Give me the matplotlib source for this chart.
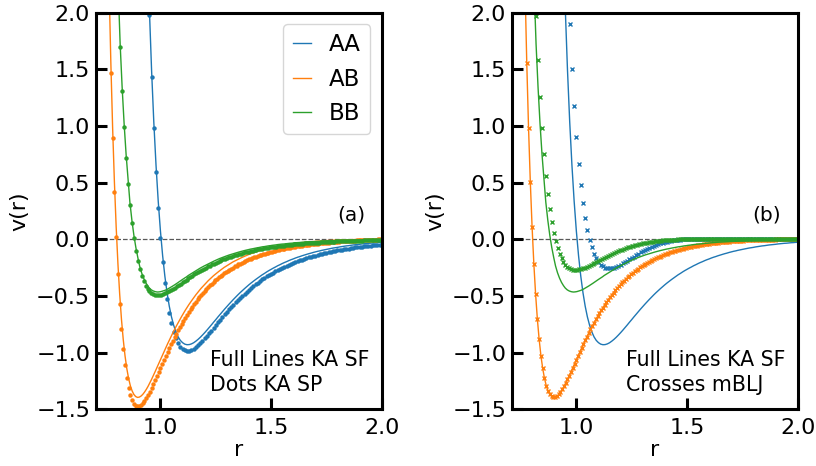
"""
plot.py

Kob-Andersen pair potentials: shifted-force lines against shifted-potential
dots (a) and against the modified mBLJ crosses (b).
"""

import matplotlib
matplotlib.use('Agg')
import matplotlib.pyplot as plt

## Pair names and colours
pairs = ['AA', 'AB', 'BB']
colors = ['#1f77b4', '#ff7f0e', '#2ca02c']

## r values for every pair
r_aa = [0.94, 0.95, 0.96, 0.97, 0.98, 0.99, 1.00, 1.01, 1.02, 1.03,
        1.04, 1.05, 1.06, 1.07, 1.08, 1.09, 1.10, 1.11, 1.12, 1.13,
        1.14, 1.15, 1.16, 1.17, 1.18, 1.19, 1.20, 1.21, 1.22, 1.23,
        1.24, 1.25, 1.26, 1.27, 1.28, 1.29, 1.30, 1.31, 1.32, 1.33,
        1.34, 1.35, 1.36, 1.37, 1.38, 1.39, 1.40, 1.41, 1.42, 1.43,
        1.44, 1.45, 1.46, 1.47, 1.48, 1.49, 1.50, 1.51, 1.52, 1.53,
        1.54, 1.55, 1.56, 1.57, 1.58, 1.59, 1.60, 1.61, 1.62, 1.63,
        1.64, 1.65, 1.66, 1.67, 1.68, 1.69, 1.70, 1.71, 1.72, 1.73,
        1.74, 1.75, 1.76, 1.77, 1.78, 1.79, 1.80, 1.81, 1.82, 1.83,
        1.84, 1.85, 1.86, 1.87, 1.88, 1.89, 1.90, 1.91, 1.92, 1.93,
        1.94, 1.95, 1.96, 1.97, 1.98, 1.99, 2.00]
r_ab = [0.768, 0.776, 0.784, 0.792, 0.800, 0.808, 0.816, 0.824, 0.832, 0.840,
        0.848, 0.856, 0.864, 0.872, 0.880, 0.888, 0.896, 0.904, 0.912, 0.920,
        0.928, 0.936, 0.944, 0.952, 0.960, 0.968, 0.976, 0.984, 0.992, 1.000,
        1.008, 1.016, 1.024, 1.032, 1.040, 1.048, 1.056, 1.064, 1.072, 1.080,
        1.088, 1.096, 1.104, 1.112, 1.120, 1.128, 1.136, 1.144, 1.152, 1.160,
        1.168, 1.176, 1.184, 1.192, 1.200, 1.208, 1.216, 1.224, 1.232, 1.240,
        1.248, 1.256, 1.264, 1.272, 1.280, 1.288, 1.296, 1.304, 1.312, 1.320,
        1.328, 1.336, 1.344, 1.352, 1.360, 1.368, 1.376, 1.384, 1.392, 1.400,
        1.408, 1.416, 1.424, 1.432, 1.440, 1.448, 1.456, 1.464, 1.472, 1.480,
        1.488, 1.496, 1.504, 1.512, 1.520, 1.528, 1.536, 1.544, 1.552, 1.560,
        1.568, 1.576, 1.584, 1.592, 1.600, 1.608, 1.616, 1.624, 1.632, 1.640,
        1.648, 1.656, 1.664, 1.672, 1.680, 1.688, 1.696, 1.704, 1.712, 1.720,
        1.728, 1.736, 1.744, 1.752, 1.760, 1.768, 1.776, 1.784, 1.792, 1.800,
        1.808, 1.816, 1.824, 1.832, 1.840, 1.848, 1.856, 1.864, 1.872, 1.880,
        1.888, 1.896, 1.904, 1.912, 1.920, 1.928, 1.936, 1.944, 1.952, 1.960,
        1.968, 1.976, 1.984, 1.992, 2.000]
r_bb = [0.810, 0.818, 0.827, 0.836, 0.845, 0.854, 0.862, 0.871, 0.880, 0.889,
        0.898, 0.906, 0.915, 0.924, 0.933, 0.942, 0.950, 0.959, 0.968, 0.977,
        0.986, 0.994, 1.003, 1.012, 1.021, 1.030, 1.038, 1.047, 1.056, 1.065,
        1.074, 1.082, 1.091, 1.100, 1.109, 1.118, 1.126, 1.135, 1.144, 1.153,
        1.162, 1.170, 1.179, 1.188, 1.197, 1.206, 1.214, 1.223, 1.232, 1.241,
        1.250, 1.258, 1.267, 1.276, 1.285, 1.294, 1.302, 1.311, 1.320, 1.329,
        1.338, 1.346, 1.355, 1.364, 1.373, 1.382, 1.390, 1.399, 1.408, 1.417,
        1.426, 1.434, 1.443, 1.452, 1.461, 1.470, 1.478, 1.487, 1.496, 1.505,
        1.514, 1.522, 1.531, 1.540, 1.549, 1.558, 1.566, 1.575, 1.584, 1.593,
        1.602, 1.610, 1.619, 1.628, 1.637, 1.646, 1.654, 1.663, 1.672, 1.681,
        1.690, 1.698, 1.707, 1.716, 1.725, 1.734, 1.742, 1.751, 1.760, 1.769,
        1.778, 1.786, 1.795, 1.804, 1.813, 1.822, 1.830, 1.839, 1.848, 1.857,
        1.866, 1.874, 1.883, 1.892, 1.901, 1.910, 1.918, 1.927, 1.936, 1.945,
        1.954, 1.962, 1.971, 1.980, 1.989, 1.998, 2.006]

## KA shifted force (full lines, both panels)
v_aa_sf = [2.684, 2.038, 1.495, 1.039, 0.658, 0.339, 0.075, -0.144, -0.324, -0.471,
           -0.590, -0.685, -0.759, -0.817, -0.861, -0.892, -0.912, -0.925, -0.930, -0.929,
           -0.923, -0.913, -0.899, -0.883, -0.865, -0.845, -0.824, -0.802, -0.779, -0.756,
           -0.732, -0.709, -0.685, -0.662, -0.639, -0.616, -0.594, -0.572, -0.551, -0.530,
           -0.510, -0.490, -0.471, -0.453, -0.435, -0.418, -0.401, -0.385, -0.370, -0.355,
           -0.341, -0.327, -0.313, -0.301, -0.288, -0.276, -0.265, -0.254, -0.244, -0.233,
           -0.224, -0.214, -0.205, -0.197, -0.188, -0.180, -0.173, -0.165, -0.158, -0.152,
           -0.145, -0.139, -0.133, -0.127, -0.122, -0.116, -0.111, -0.106, -0.102, -0.097,
           -0.093, -0.089, -0.085, -0.081, -0.077, -0.074, -0.071, -0.067, -0.064, -0.061,
           -0.058, -0.056, -0.053, -0.050, -0.048, -0.046, -0.044, -0.041, -0.039, -0.037,
           -0.035, -0.034, -0.032, -0.030, -0.029, -0.027, -0.026]
v_ab_sf = [2.242, 1.558, 0.986, 0.509, 0.112, -0.216, -0.486, -0.706, -0.884, -1.027,
           -1.139, -1.226, -1.291, -1.337, -1.369, -1.387, -1.395, -1.393, -1.384, -1.369,
           -1.349, -1.325, -1.298, -1.268, -1.236, -1.203, -1.168, -1.134, -1.098, -1.063,
           -1.028, -0.993, -0.958, -0.924, -0.891, -0.858, -0.826, -0.795, -0.765, -0.736,
           -0.707, -0.680, -0.653, -0.627, -0.602, -0.578, -0.555, -0.533, -0.511, -0.490,
           -0.470, -0.451, -0.432, -0.415, -0.398, -0.381, -0.365, -0.350, -0.335, -0.321,
           -0.308, -0.295, -0.283, -0.271, -0.259, -0.248, -0.238, -0.227, -0.218, -0.208,
           -0.199, -0.191, -0.183, -0.175, -0.167, -0.160, -0.153, -0.146, -0.139, -0.133,
           -0.127, -0.122, -0.116, -0.111, -0.106, -0.101, -0.096, -0.092, -0.088, -0.083,
           -0.079, -0.076, -0.072, -0.069, -0.065, -0.062, -0.059, -0.056, -0.053, -0.050,
           -0.048, -0.045, -0.043, -0.041, -0.039, -0.036, -0.034, -0.033, -0.031, -0.029,
           -0.027, -0.026, -0.024, -0.023, -0.021, -0.020, -0.019, -0.017, -0.016, -0.015,
           -0.014, -0.013, -0.012, -0.011, -0.010, -0.010, -0.009, -0.008, -0.007, -0.007,
           -0.006, -0.006, -0.005, -0.005, -0.004, -0.004, -0.003, -0.003, -0.002, -0.002,
           -0.002, -0.002, -0.001, -0.001, -0.001, -0.001, -0.001, 0.000, 0.000, 0.000,
           0.000, 0.000, 0.000, 0.000, 0.000]
v_bb_sf = [2.180, 1.725, 1.342, 1.019, 0.747, 0.519, 0.329, 0.170, 0.037, -0.072,
           -0.162, -0.235, -0.295, -0.342, -0.380, -0.409, -0.430, -0.446, -0.456, -0.462,
           -0.465, -0.464, -0.461, -0.456, -0.450, -0.442, -0.433, -0.423, -0.412, -0.401,
           -0.389, -0.378, -0.366, -0.354, -0.343, -0.331, -0.319, -0.308, -0.297, -0.286,
           -0.275, -0.265, -0.255, -0.245, -0.236, -0.227, -0.218, -0.209, -0.201, -0.193,
           -0.185, -0.178, -0.170, -0.163, -0.157, -0.150, -0.144, -0.138, -0.133, -0.127,
           -0.122, -0.117, -0.112, -0.107, -0.103, -0.098, -0.094, -0.090, -0.086, -0.083,
           -0.079, -0.076, -0.073, -0.069, -0.066, -0.064, -0.061, -0.058, -0.056, -0.053,
           -0.051, -0.049, -0.046, -0.044, -0.042, -0.041, -0.039, -0.037, -0.035, -0.034,
           -0.032, -0.031, -0.029, -0.028, -0.026, -0.025, -0.024, -0.023, -0.022, -0.021,
           -0.020, -0.019, -0.018, -0.017, -0.016, -0.015, -0.014, -0.014, -0.013, -0.012,
           -0.011, -0.011, -0.010, -0.010, -0.009, -0.009, -0.008, -0.008, -0.007, -0.007,
           -0.006, -0.006, -0.005, -0.005, -0.005, -0.004, -0.004, -0.004, -0.003, -0.003,
           -0.003, -0.003, -0.002, -0.002, -0.002, -0.002, -0.002]

## KA shifted potential (dots, panel a)
v_aa_sp = [2.623, 1.977, 1.435, 0.979, 0.598, 0.280, 0.016, -0.202, -0.382, -0.528,
           -0.647, -0.741, -0.816, -0.873, -0.916, -0.947, -0.967, -0.979, -0.984, -0.982,
           -0.976, -0.965, -0.952, -0.935, -0.917, -0.896, -0.875, -0.852, -0.829, -0.805,
           -0.781, -0.757, -0.733, -0.710, -0.686, -0.663, -0.641, -0.619, -0.597, -0.576,
           -0.555, -0.535, -0.516, -0.497, -0.479, -0.461, -0.444, -0.428, -0.412, -0.397,
           -0.382, -0.368, -0.354, -0.341, -0.328, -0.316, -0.304, -0.293, -0.282, -0.271,
           -0.261, -0.251, -0.242, -0.233, -0.224, -0.216, -0.208, -0.200, -0.193, -0.186,
           -0.179, -0.172, -0.166, -0.160, -0.154, -0.148, -0.143, -0.137, -0.132, -0.127,
           -0.123, -0.118, -0.114, -0.110, -0.105, -0.102, -0.098, -0.094, -0.091, -0.087,
           -0.084, -0.081, -0.078, -0.075, -0.072, -0.070, -0.067, -0.064, -0.062, -0.060,
           -0.057, -0.055, -0.053, -0.051, -0.049, -0.047, -0.045]
v_ab_sp = [2.152, 1.469, 0.897, 0.421, 0.024, -0.303, -0.572, -0.792, -0.970, -1.112,
           -1.223, -1.310, -1.374, -1.420, -1.451, -1.468, -1.475, -1.473, -1.464, -1.448,
           -1.427, -1.403, -1.375, -1.344, -1.312, -1.278, -1.243, -1.208, -1.172, -1.136,
           -1.100, -1.065, -1.030, -0.995, -0.961, -0.928, -0.895, -0.864, -0.833, -0.803,
           -0.774, -0.746, -0.718, -0.692, -0.667, -0.642, -0.618, -0.595, -0.573, -0.552,
           -0.531, -0.511, -0.492, -0.474, -0.456, -0.439, -0.423, -0.407, -0.392, -0.377,
           -0.363, -0.349, -0.336, -0.324, -0.312, -0.300, -0.289, -0.278, -0.268, -0.258,
           -0.249, -0.239, -0.231, -0.222, -0.214, -0.206, -0.198, -0.191, -0.184, -0.177,
           -0.171, -0.164, -0.158, -0.152, -0.147, -0.141, -0.136, -0.131, -0.126, -0.121,
           -0.117, -0.113, -0.108, -0.104, -0.100, -0.097, -0.093, -0.089, -0.086, -0.083,
           -0.079, -0.076, -0.073, -0.071, -0.068, -0.065, -0.063, -0.060, -0.058, -0.055,
           -0.053, -0.051, -0.049, -0.047, -0.045, -0.043, -0.041, -0.039, -0.037, -0.036,
           -0.034, -0.032, -0.031, -0.029, -0.028, -0.027, -0.025, -0.024, -0.023, -0.021,
           -0.020, -0.019, -0.018, -0.017, -0.016, -0.015, -0.014, -0.013, -0.012, -0.011,
           -0.010, -0.009, -0.008, -0.008, -0.007, -0.006, -0.005, -0.005, -0.004, -0.003,
           -0.002, -0.002, -0.001, -0.001, 0.000]
v_bb_sp = [2.149, 1.695, 1.311, 0.989, 0.717, 0.490, 0.299, 0.140, 0.008, -0.101,
           -0.191, -0.264, -0.323, -0.371, -0.408, -0.437, -0.458, -0.473, -0.484, -0.489,
           -0.492, -0.491, -0.488, -0.483, -0.476, -0.468, -0.458, -0.448, -0.437, -0.426,
           -0.414, -0.403, -0.391, -0.379, -0.367, -0.355, -0.343, -0.332, -0.320, -0.309,
           -0.298, -0.288, -0.278, -0.268, -0.258, -0.249, -0.239, -0.231, -0.222, -0.214,
           -0.206, -0.198, -0.191, -0.184, -0.177, -0.170, -0.164, -0.158, -0.152, -0.146,
           -0.141, -0.136, -0.131, -0.126, -0.121, -0.116, -0.112, -0.108, -0.104, -0.100,
           -0.096, -0.093, -0.089, -0.086, -0.083, -0.080, -0.077, -0.074, -0.071, -0.069,
           -0.066, -0.064, -0.061, -0.059, -0.057, -0.055, -0.053, -0.051, -0.049, -0.047,
           -0.045, -0.044, -0.042, -0.040, -0.039, -0.038, -0.036, -0.035, -0.033, -0.032,
           -0.031, -0.030, -0.029, -0.028, -0.027, -0.025, -0.024, -0.024, -0.023, -0.022,
           -0.021, -0.020, -0.019, -0.018, -0.018, -0.017, -0.016, -0.016, -0.015, -0.014,
           -0.014, -0.013, -0.012, -0.012, -0.011, -0.011, -0.010, -0.010, -0.009, -0.009,
           -0.008, -0.008, -0.008, -0.007, -0.007, -0.006, -0.006]

## mBLJ (crosses, panel b); AB sits on the KA SF line
v_aa_mblj = [3.575, 2.918, 2.364, 1.897, 1.504, 1.175, 0.899, 0.669, 0.478, 0.320,
             0.190, 0.084, -0.002, -0.071, -0.126, -0.168, -0.200, -0.223, -0.239, -0.250,
             -0.255, -0.256, -0.254, -0.249, -0.242, -0.233, -0.223, -0.212, -0.201, -0.189,
             -0.176, -0.164, -0.152, -0.139, -0.128, -0.116, -0.105, -0.094, -0.084, -0.075,
             -0.066, -0.058, -0.050, -0.043, -0.036, -0.030, -0.025, -0.020, -0.015, -0.012,
             -0.008, -0.006, -0.004, -0.002, -0.001, 0.000, 0.000, 0.000, 0.000, 0.000,
             0.000, 0.000, 0.000, 0.000, 0.000, 0.000, 0.000, 0.000, 0.000, 0.000,
             0.000, 0.000, 0.000, 0.000, 0.000, 0.000, 0.000, 0.000, 0.000, 0.000,
             0.000, 0.000, 0.000, 0.000, 0.000, 0.000, 0.000, 0.000, 0.000, 0.000,
             0.000, 0.000, 0.000, 0.000, 0.000, 0.000, 0.000, 0.000, 0.000, 0.000,
             0.000, 0.000, 0.000, 0.000, 0.000, 0.000, 0.000]
v_ab_mblj = v_ab_sf
v_bb_mblj = [2.426, 1.969, 1.583, 1.258, 0.984, 0.753, 0.560, 0.399, 0.264, 0.152,
             0.060, -0.016, -0.078, -0.128, -0.168, -0.199, -0.223, -0.241, -0.254, -0.263,
             -0.268, -0.270, -0.269, -0.266, -0.262, -0.257, -0.250, -0.242, -0.234, -0.226,
             -0.217, -0.207, -0.198, -0.189, -0.179, -0.170, -0.161, -0.152, -0.144, -0.135,
             -0.127, -0.119, -0.111, -0.104, -0.097, -0.090, -0.084, -0.078, -0.072, -0.066,
             -0.061, -0.056, -0.051, -0.047, -0.042, -0.039, -0.035, -0.031, -0.028, -0.025,
             -0.022, -0.020, -0.017, -0.015, -0.013, -0.011, -0.009, -0.008, -0.006, -0.005,
             -0.004, -0.003, -0.002, -0.002, -0.001, -0.001, 0.000, 0.000, 0.000, 0.000,
             0.000, 0.000, 0.000, 0.000, 0.000, 0.000, 0.000, 0.000, 0.000, 0.000,
             0.000, 0.000, 0.000, 0.000, 0.000, 0.000, 0.000, 0.000, 0.000, 0.000,
             0.000, 0.000, 0.000, 0.000, 0.000, 0.000, 0.000, 0.000, 0.000, 0.000,
             0.000, 0.000, 0.000, 0.000, 0.000, 0.000, 0.000, 0.000, 0.000, 0.000,
             0.000, 0.000, 0.000, 0.000, 0.000, 0.000, 0.000, 0.000, 0.000, 0.000,
             0.000, 0.000, 0.000, 0.000, 0.000, 0.000, 0.000]

## Axis ticks
x_ticks = [1.0, 1.5, 2.0]
y_ticks = [-1.5, -1.0, -0.5, 0.0, 0.5, 1.0, 1.5, 2.0]

r_lists = [r_aa, r_ab, r_bb]
sf_lists = [v_aa_sf, v_ab_sf, v_bb_sf]
sp_lists = [v_aa_sp, v_ab_sp, v_bb_sp]
mblj_lists = [v_aa_mblj, v_ab_mblj, v_bb_mblj]


def _style_axes(ax, tag, note):
    ax.set_xlim(0.708, 2.0)
    ax.set_ylim(-1.5, 2.0)
    ax.set_xticks(x_ticks)
    ax.set_yticks(y_ticks)
    ax.axhline(0.0, color='0.35', ls='--', lw=0.9, zorder=0)
    for spine in ax.spines.values():
        spine.set_linewidth(2.2)
    ax.tick_params(direction='in', length=8, width=2.2, labelsize=16)
    ax.tick_params(axis='x', pad=6)
    ax.tick_params(axis='y', pad=4)
    ax.set_xlabel('r', fontsize=16, labelpad=2)
    ax.set_ylabel('v(r)', fontsize=16, labelpad=5)
    ax.text(0.942, 0.491, tag, transform=ax.transAxes, ha='right',
            va='center', fontsize=14.5)
    ax.text(0.399, 0.149, note, transform=ax.transAxes, ha='left',
            va='top', fontsize=14.8, linespacing=1.3)


fig = plt.figure(figsize=(8.16, 4.66), dpi=100)
ax_a = fig.add_axes((0.1174, 0.1217, 0.3504, 0.8510))
ax_b = fig.add_axes((0.6271, 0.1217, 0.3504, 0.8510))

## Panel (a): SF lines and SP dots
for name, color, r, sf, sp in zip(pairs, colors, r_lists, sf_lists, sp_lists):
    ax_a.plot(r, sf, color=color, lw=1.0, label=name)
    ax_a.plot(r, sp, ls='none', marker='o', ms=3.2, mew=0, color=color)
_style_axes(ax_a, '(a)', 'Full Lines KA SF\nDots KA SP')
ax_a.legend(loc='upper right', fontsize=16.5, handlelength=0.8,
            labelspacing=0.49)

## Panel (b): SF lines and mBLJ crosses
for name, color, r, sf, mb in zip(pairs, colors, r_lists, sf_lists, mblj_lists):
    ax_b.plot(r, sf, color=color, lw=1.0)
    ax_b.plot(r, mb, ls='none', marker='x', ms=3.4, mew=1.0, color=color)
_style_axes(ax_b, '(b)', 'Full Lines KA SF\nCrosses mBLJ')

fig.savefig('out.png', dpi=100)
